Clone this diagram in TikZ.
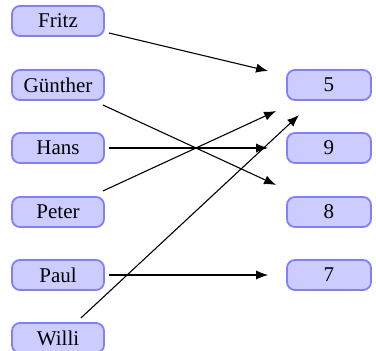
\documentclass[tikz,border=0pt]{standalone}
\usepackage{fontspec}
\newfontfamily\tnrfont{Liberation Serif}
\usetikzlibrary{calc,arrows.meta}
\begin{document}
\begin{tikzpicture}[x=0.5pt,y=-0.5pt,
  box/.style={draw=blue!50,fill=blue!20,line width=0.9pt,rounded corners=4pt,
    minimum height=15pt,inner sep=0pt,font=\tnrfont\fontsize{10.5}{12}\selectfont},
  lbox/.style={box,minimum width=46pt},
  rbox/.style={box,minimum width=42pt},
  arr/.style={line width=0.55pt,-{Latex[length=6pt,width=4.6pt]}}]
\useasboundingbox (0,0) rectangle (376,351);
\node[lbox] (Fritz) at (58,21) {Fritz};
\node[lbox] (Gunther) at (58,85) {Günther};
\node[lbox] (Hans) at (58,148) {Hans};
\node[lbox] (Peter) at (58,212) {Peter};
\node[lbox] (Paul) at (58,275) {Paul};
\node[lbox] (Willi) at (58,338) {Willi};
\node[rbox] (n5) at (329,85) {5};
\node[rbox] (n9) at (329,148) {9};
\node[rbox] (n8) at (329,212) {8};
\node[rbox] (n7) at (329,275) {7};
\draw[arr] ($(Fritz.east)+(4,12)$) -- ($(n5.west)+(-18,-14)$);
\draw[arr] ($(Gunther.east)+(-2,20)$) -- ($(n8.west)+(-10,-27)$);
\draw[arr] ($(Hans.east)+(4,0)$) -- ($(n9.west)+(-18,0)$);
\draw[arr] ($(Peter.east)+(-2,-21)$) -- ($(n5.west)+(-10,26)$);
\draw[arr] ($(Paul.east)+(4,0)$) -- ($(n7.west)+(-18,0)$);
\draw[arr] ($(Willi.east)+(-24,-20)$) -- ($(n5.west)+(13,30)$);
\end{tikzpicture}
\end{document}
